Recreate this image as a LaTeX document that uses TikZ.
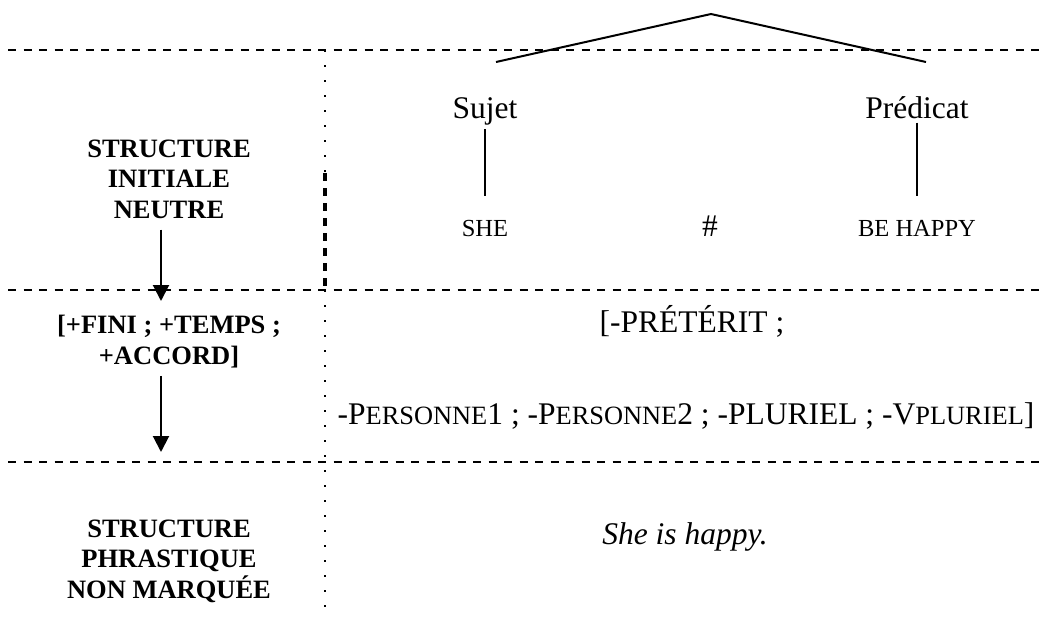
\documentclass[tikz,border=0pt]{standalone}
\usepackage{fontspec}
\setmainfont{Liberation Serif}
\usetikzlibrary{arrows.meta,positioning,calc}
\newcommand{\smallcap}[1]{{\fontsize{13.2pt}{15pt}\selectfont #1}}

\begin{document}
\begin{tikzpicture}[
    x=0.5pt, y=-0.5pt,
    lbl/.style={font=\fontsize{13.25pt}{15.25pt}\selectfont\bfseries, align=center, anchor=base, inner sep=0pt},
    big/.style={font=\fontsize{15.75pt}{18pt}\selectfont, anchor=base, inner sep=0pt},
    word/.style={font=\fontsize{12.25pt}{14pt}\selectfont, anchor=base, inner sep=0pt},
    sep/.style={line width=0.8pt, dash pattern=on 4pt off 3.75pt},
    colsep/.style={line width=1.1pt, dash pattern=on 1.2pt off 6.3pt},
    colbold/.style={line width=1.6pt, dash pattern=on 4pt off 3.5pt},
    branch/.style={line width=1pt},
    arrow/.style={-{Triangle[length=8pt,width=8pt]}, line width=1pt}
  ]
    \useasboundingbox (0,0) rectangle (1046,617);

    % separators
    \draw[sep] (8,50) -- (1046,50);
    \draw[sep] (8,290) -- (1046,290);
    \draw[sep] (8,462) -- (1046,462);
    \draw[colsep] (325,50) -- (325,173);
    \draw[colbold] (325,173) -- (325,290);
    \draw[colsep] (325,290) -- (325,608);

    % left column (base = last line)
    \node[lbl] (init) at (169,218) {STRUCTURE\\INITIALE\\NEUTRE};
    \node[lbl] (fini) at (169,364) {[+FINI ; +TEMPS ;\\+ACCORD]};
    \node[lbl] (phr) at (169,598) {STRUCTURE\\PHRASTIQUE\\NON MARQUÉE};
    \coordinate (tip1) at (161,301);
    \coordinate (tip2) at (161,452);
    \draw[arrow, shorten <=5.5pt] (init.south -| tip1) -- (tip1);
    \draw[arrow, shorten <=4pt] (fini.south -| tip1) -- (tip2);

    % tree
    \coordinate (top) at (711,14);
    \coordinate (lend) at (496,62);
    \coordinate (rend) at (926,62);
    \draw[branch] (lend) -- (top) -- (rend);
    \node[big] (sujet) at (485,118) {Sujet};
    \node[big] (pred) at (917,118) {Prédicat};
    \node[word] (she) at (485,236) {SHE};
    \node[big] (hash) at (710,236) {\#};
    \node[word] (behappy) at (917,236) {BE HAPPY};
    \draw[branch, shorten <=2pt, shorten >=11.5pt] (sujet.south) -- (she.north);
    \draw[branch, shorten <=2pt, shorten >=11.5pt] (pred.south) -- (behappy.north);

    % features
    \node[big] (pret) at (692,332) {[-PRÉTÉRIT ;};
    \node[big] (pers) at (686,424) {-P\smallcap{ERSONNE}1 ; -P\smallcap{ERSONNE}2 ; -PLURIEL ; -V\smallcap{PLURIEL}]};
    \node[big, font=\fontsize{15.75pt}{18pt}\selectfont\itshape] (she-is) at (685,544) {She is happy.};
  \end{tikzpicture}
\end{document}
